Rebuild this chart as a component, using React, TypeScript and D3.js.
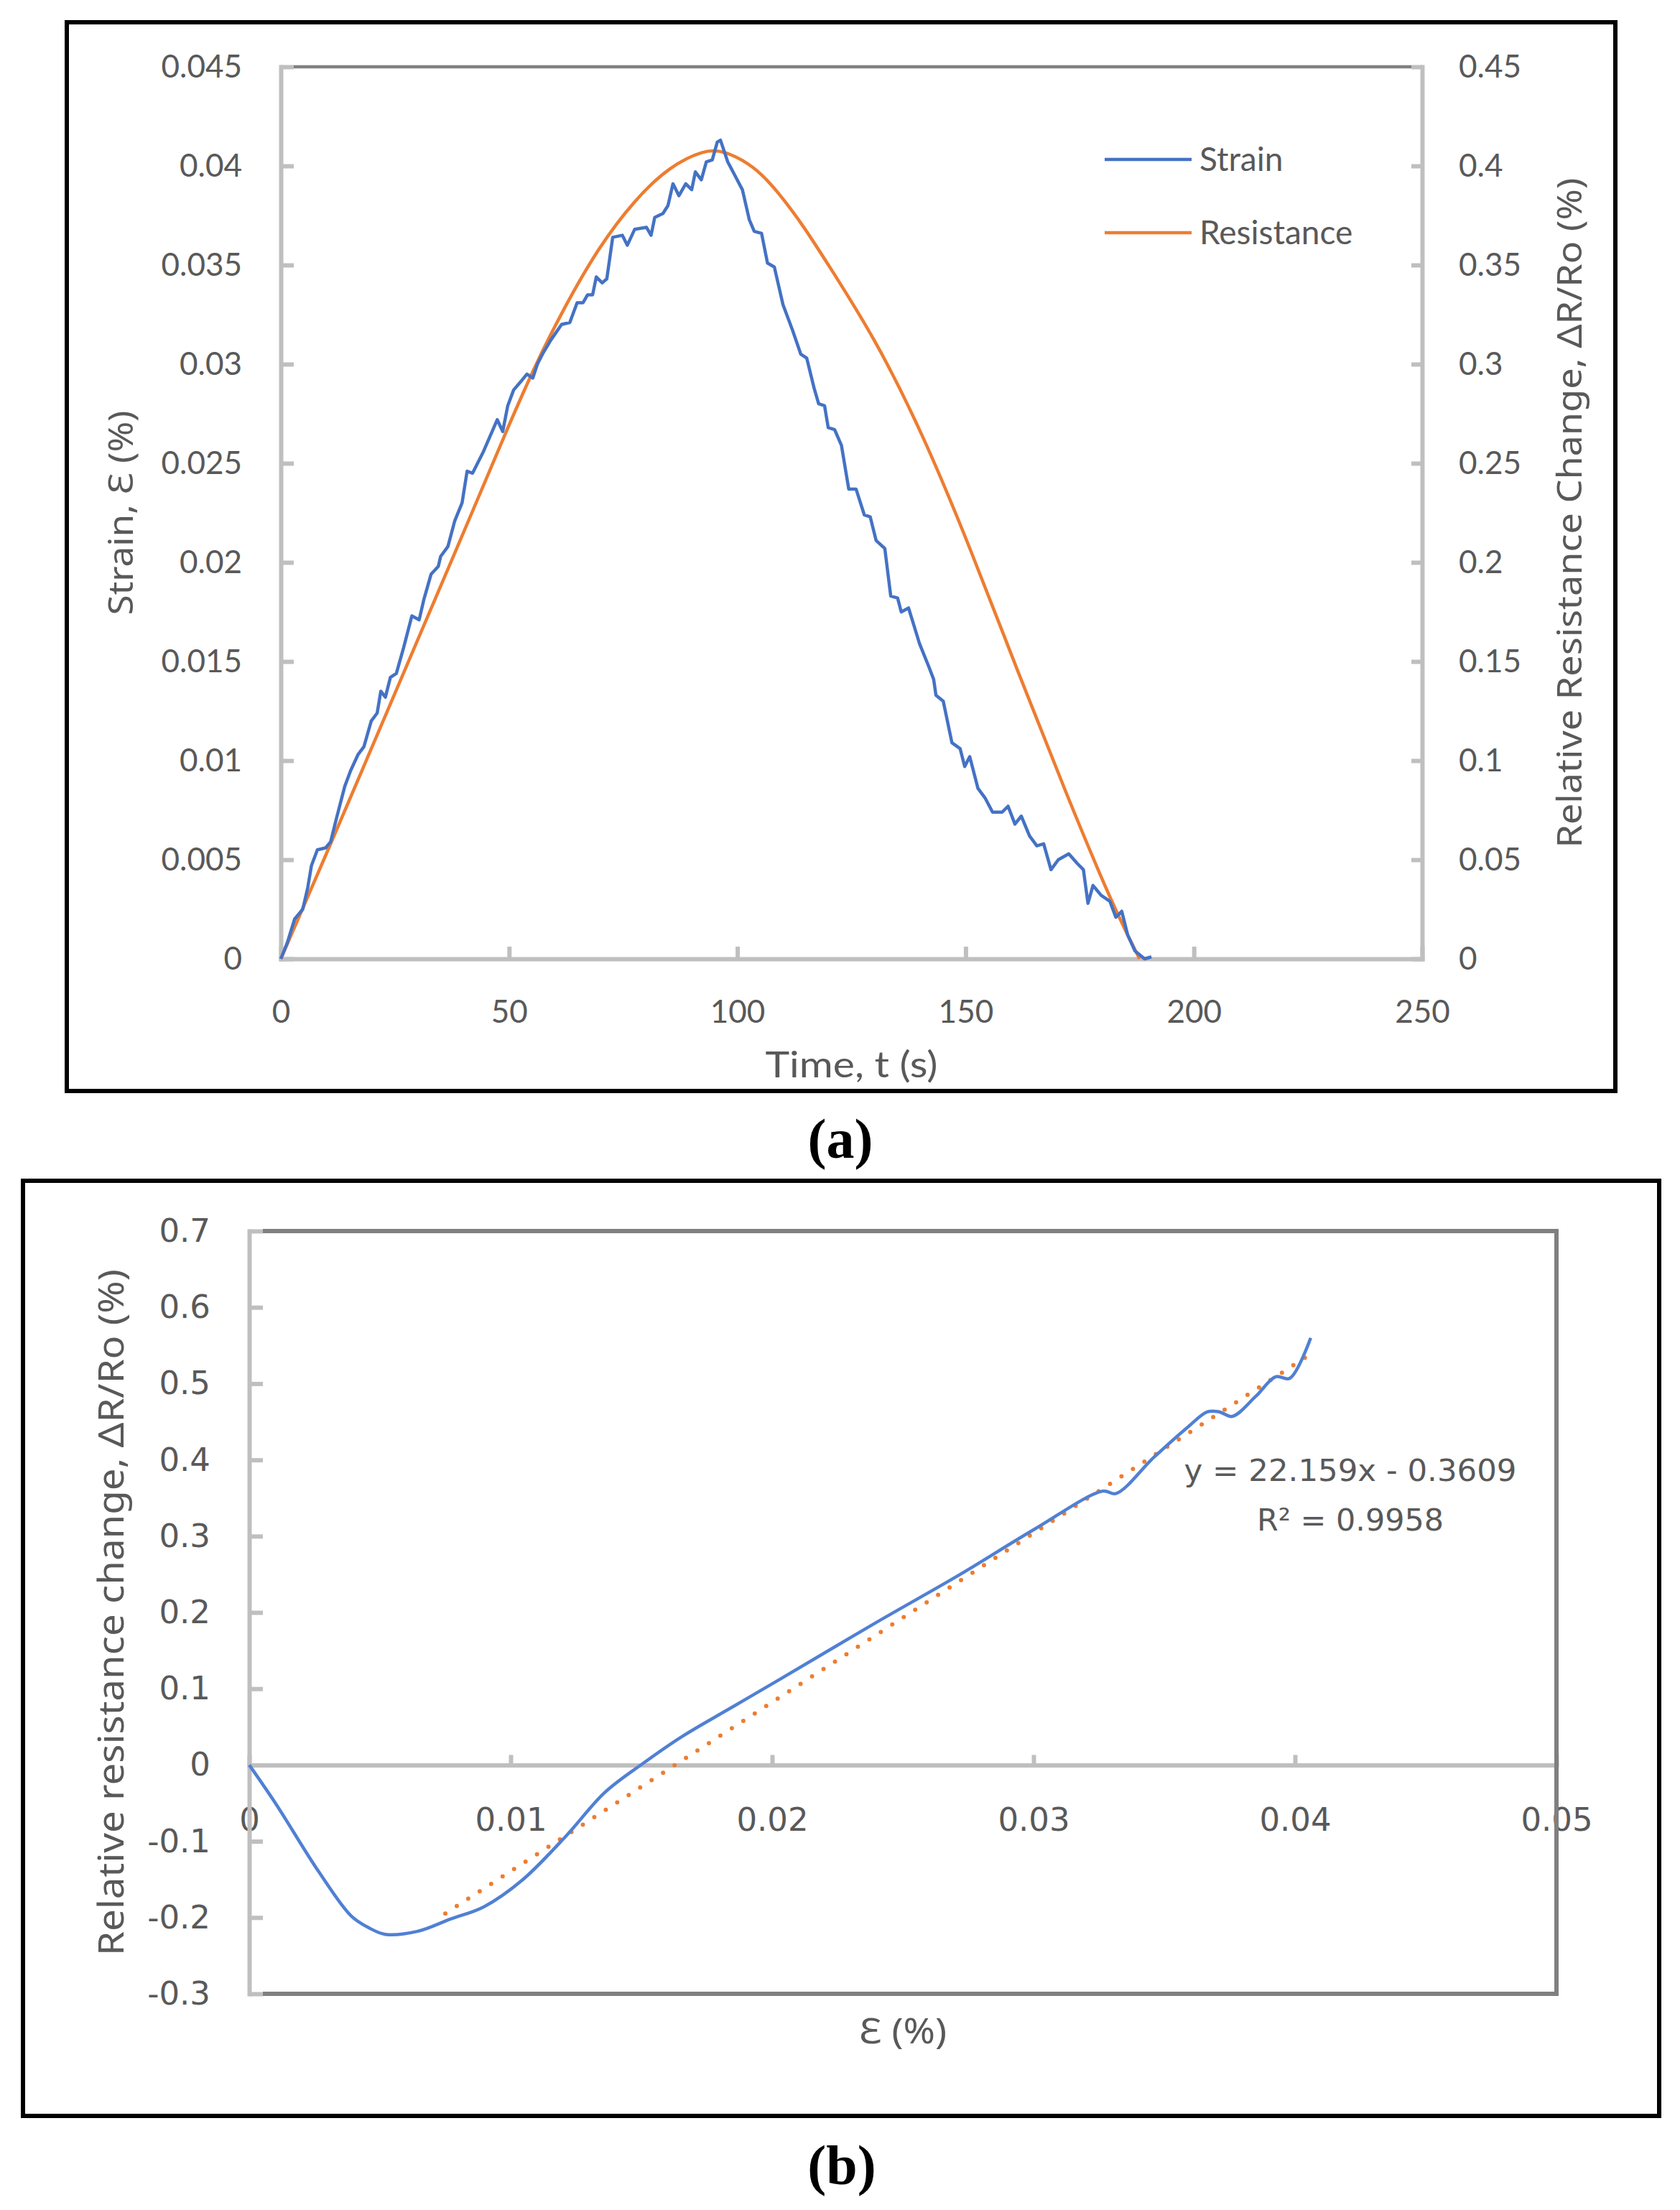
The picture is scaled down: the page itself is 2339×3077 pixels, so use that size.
import * as d3 from "d3";
import { useEffect, useRef } from "react";

// ===== (a) strain and resistance against time =====
// [time s, strain %]
const strainPoints: [number, number][] = [
  [0, 0], [1.4, 0.0008], [3.0, 0.002], [4.8, 0.0025], [5.9, 0.0036], [6.7, 0.0047],
  [8.0, 0.0055], [9.8, 0.0056], [10.9, 0.0059], [12.2, 0.0071], [14.0, 0.0087],
  [15.3, 0.0095], [16.9, 0.0103], [18.2, 0.0107], [19.8, 0.012], [21.1, 0.0124],
  [21.9, 0.0135], [22.9, 0.0132], [24.0, 0.0142], [25.3, 0.0144], [26.9, 0.0157],
  [28.7, 0.0173], [30.3, 0.0171], [31.3, 0.0181], [32.9, 0.0194], [34.5, 0.0198],
  [35.0, 0.0203], [36.6, 0.0208], [38.1, 0.0221], [39.7, 0.023], [40.8, 0.0246],
  [42.0, 0.0245], [44.4, 0.0256], [47.4, 0.0272], [48.6, 0.0266], [49.7, 0.0279],
  [51.0, 0.0287], [52.5, 0.0291], [53.9, 0.0295], [55.2, 0.0293], [56.2, 0.03],
  [57.3, 0.0305], [59.1, 0.0312], [61.5, 0.032], [63.3, 0.0321], [64.9, 0.0331],
  [66.2, 0.0331], [67.2, 0.0335], [68.3, 0.0335], [69.1, 0.0344], [70.4, 0.0341],
  [71.4, 0.0343], [72.7, 0.0364], [74.8, 0.0365], [75.9, 0.036], [77.5, 0.0368],
  [80.1, 0.0369], [81.1, 0.0365], [81.9, 0.0374], [83.7, 0.0376], [84.8, 0.038],
  [85.9, 0.0391], [87.2, 0.0385], [88.7, 0.0391], [90.0, 0.0388], [90.8, 0.0397],
  [92.1, 0.0393], [93.2, 0.0402], [94.5, 0.0403], [95.6, 0.0412], [96.3, 0.0413],
  [97.9, 0.0402], [99.5, 0.0395], [101.1, 0.0388], [102.6, 0.0373], [103.7, 0.0367],
  [105.3, 0.0366], [106.6, 0.0351], [108.1, 0.0349], [110.0, 0.033], [112.1, 0.0317],
  [113.9, 0.0305], [115.2, 0.0303], [116.8, 0.0288], [117.8, 0.028], [119.1, 0.0279],
  [119.9, 0.0268], [121.3, 0.0267], [122.8, 0.0259], [124.4, 0.0237], [126.0, 0.0237],
  [127.8, 0.0224], [129.1, 0.0223], [130.4, 0.0211], [132.3, 0.0207], [133.6, 0.0183],
  [135.1, 0.0182], [135.9, 0.0175], [137.5, 0.0177], [139.9, 0.0159], [142.0, 0.0147],
  [143.0, 0.0141], [143.5, 0.0133], [145.1, 0.013], [147.0, 0.0109], [148.8, 0.0106],
  [149.8, 0.0097], [150.9, 0.0102], [152.7, 0.0086], [154.3, 0.0081], [155.9, 0.0074],
  [158.0, 0.0074], [159.3, 0.0077], [160.8, 0.0068], [162.2, 0.0072], [164.0, 0.0062],
  [165.6, 0.0057], [167.1, 0.0058], [168.7, 0.0045], [170.3, 0.005], [172.6, 0.0053],
  [174.5, 0.0048], [175.8, 0.0045], [176.8, 0.0028], [177.9, 0.0037], [179.7, 0.0032],
  [181.6, 0.0029], [182.9, 0.0021], [184.2, 0.0024], [185.5, 0.0012], [187.1, 0.0004],
  [189.2, 0], [190.7, 0.0001],
];

// [time s, ΔR/Ro %] on the right axis
const resistancePoints: [number, number][] = [
  [0, 0], [10, 0.053], [20, 0.107], [30, 0.161], [42.8, 0.23], [48.6, 0.262],
  [55.4, 0.298], [61.7, 0.327], [69.6, 0.359], [77.5, 0.383], [85.3, 0.4],
  [92.7, 0.408], [96.9, 0.408], [103.7, 0.4], [108.9, 0.387], [114.7, 0.369],
  [119.4, 0.352], [129.9, 0.314], [140.4, 0.266], [150.9, 0.208], [161.4, 0.145],
  [171.9, 0.084], [182.4, 0.026], [188.1, 0],
];

const timeTicks = [0, 50, 100, 150, 200, 250];
const strainTicks = [0, 0.005, 0.01, 0.015, 0.02, 0.025, 0.03, 0.035, 0.04, 0.045];
const strainTickLabels = ["0", "0.005", "0.01", "0.015", "0.02", "0.025", "0.03", "0.035", "0.04", "0.045"];
const resistTicks = [0, 0.05, 0.1, 0.15, 0.2, 0.25, 0.3, 0.35, 0.4, 0.45];
const resistTickLabels = ["0", "0.05", "0.1", "0.15", "0.2", "0.25", "0.3", "0.35", "0.4", "0.45"];
const legendNames = ["Strain", "Resistance"];

// ===== (b) resistance change against strain =====
// [strain %, ΔR/Ro %]
const responsePoints: [number, number][] = [
  [0, 0], [0.001, -0.05], [0.00266, -0.14], [0.0039, -0.198], [0.00455, -0.213],
  [0.0052, -0.222], [0.00645, -0.218], [0.0077, -0.202], [0.00897, -0.186],
  [0.01044, -0.151], [0.01212, -0.093], [0.0136, -0.036], [0.01506, 0.002],
  [0.01654, 0.037], [0.01843, 0.075], [0.02033, 0.113], [0.02394, 0.186],
  [0.0272, 0.25], [0.03003, 0.309], [0.03264, 0.359], [0.03316, 0.356],
  [0.03459, 0.403], [0.0359, 0.443], [0.03665, 0.463], [0.0371, 0.463],
  [0.0376, 0.457], [0.03849, 0.483], [0.03926, 0.509], [0.0398, 0.507], [0.0406, 0.56],
];

const epsTicks = [0, 0.01, 0.02, 0.03, 0.04, 0.05];
const epsTickLabels = ["0", "0.01", "0.02", "0.03", "0.04", "0.05"];
const drTicks = [-0.3, -0.2, -0.1, 0, 0.1, 0.2, 0.3, 0.4, 0.5, 0.6, 0.7];
const drTickLabels = ["-0.3", "-0.2", "-0.1", "0", "0.1", "0.2", "0.3", "0.4", "0.5", "0.6", "0.7"];

// linear trendline as printed on the chart
const trendSlope = 22.159;
const trendIntercept = -0.3609;
const trendRange = [0.0075, 0.0407];

const W = 2339;
const H = 3077;
const BLUE = "#4472c4";
const ORANGE = "#ed7d31";
const AXIS = "#bfbfbf";
const BORDER = "#808080";
const LABEL = "#595959";

type Sel = d3.Selection<SVGSVGElement, unknown, null, undefined>;
type G = d3.Selection<SVGGElement, unknown, null, undefined>;

function styleAxis(g: G, width: number, font: string, size: number) {
  g.select(".domain").attr("stroke", AXIS).attr("stroke-width", width).attr("stroke-linecap", "square");
  g.selectAll(".tick line").attr("stroke", AXIS).attr("stroke-width", width);
  g.selectAll(".tick text")
    .attr("fill", LABEL)
    .style("font-family", font)
    .style("font-size", `${size}px`);
}

function drawTop(svg: Sel) {
  const left = 391, right = 1980, top = 93, bottom = 1335;

  svg.append("rect")
    .attr("x", 93).attr("y", 31).attr("width", 2156).attr("height", 1488)
    .attr("fill", "none").attr("stroke", "#000").attr("stroke-width", 6);

  const x = d3.scaleLinear().domain([0, 250]).range([left, right]);
  const yL = d3.scaleLinear().domain([0, 0.045]).range([bottom, top]);
  const yR = d3.scaleLinear().domain([0, 0.45]).range([bottom, top]);

  // top border line
  svg.append("line")
    .attr("x1", left + 18).attr("x2", right - 15)
    .attr("y1", yL(0.045)).attr("y2", yL(0.045))
    .attr("stroke", BORDER).attr("stroke-width", 4.5);

  const gx = svg.append("g").attr("transform", `translate(0,${bottom})`);
  gx.call(d3.axisBottom(x).tickValues(timeTicks).tickSize(-17).tickSizeOuter(0).tickFormat(d3.format("d")));
  gx.selectAll(".tick text").attr("y", 74).attr("dy", "0.35em");
  styleAxis(gx, 6, "Lato", 44);

  const gl = svg.append("g").attr("transform", `translate(${left},0)`);
  gl.call(
    d3.axisLeft(yL).tickValues(strainTicks).tickSize(-18).tickSizeOuter(0).tickPadding(54)
      .tickFormat((_, i) => strainTickLabels[i]),
  );
  styleAxis(gl, 6, "Lato", 44);

  const gr = svg.append("g").attr("transform", `translate(${right},0)`);
  gr.call(
    d3.axisRight(yR).tickValues(resistTicks).tickSize(-15).tickSizeOuter(0).tickPadding(51)
      .tickFormat((_, i) => resistTickLabels[i]),
  );
  styleAxis(gr, 6, "Lato", 44);

  // ===== Lines =====
  const resistLine = d3.line<[number, number]>()
    .x((d) => x(d[0])).y((d) => yR(d[1]))
    .curve(d3.curveBasis);
  svg.append("path").datum(resistancePoints)
    .attr("d", resistLine).attr("fill", "none")
    .attr("stroke", ORANGE).attr("stroke-width", 4.5);

  const strainLine = d3.line<[number, number]>()
    .x((d) => x(d[0])).y((d) => yL(d[1]));
  svg.append("path").datum(strainPoints)
    .attr("d", strainLine).attr("fill", "none")
    .attr("stroke", BLUE).attr("stroke-width", 4.5).attr("stroke-linejoin", "round");

  // ===== Legend =====
  [BLUE, ORANGE].forEach((c, i) => {
    const ly = 222 + i * 102;
    svg.append("line")
      .attr("x1", 1538).attr("x2", 1659).attr("y1", ly).attr("y2", ly)
      .attr("stroke", c).attr("stroke-width", 4.5);
    svg.append("text")
      .attr("x", 1670).attr("y", ly).attr("dy", "0.35em")
      .attr("fill", LABEL).style("font-family", "Lato").style("font-size", "46px")
      .text(legendNames[i]);
  });

  // ===== Titles =====
  svg.append("text")
    .attr("x", (left + right) / 2).attr("y", 1482).attr("dy", "0.35em")
    .attr("text-anchor", "middle").attr("fill", LABEL)
    .attr("textLength", 240).attr("lengthAdjust", "spacingAndGlyphs")
    .style("font-family", "Lato").style("font-size", "50px")
    .text("Time, t (s)");

  svg.append("text")
    .attr("transform", `translate(168,${(top + bottom) / 2}) rotate(-90)`)
    .attr("dy", "0.35em").attr("text-anchor", "middle").attr("fill", LABEL)
    .attr("textLength", 285).attr("lengthAdjust", "spacingAndGlyphs")
    .style("font-family", "Noto Sans").style("font-size", "48px")
    .text("Strain, Ɛ (%)");

  svg.append("text")
    .attr("transform", `translate(2185,${(top + bottom) / 2}) rotate(-90)`)
    .attr("dy", "0.35em").attr("text-anchor", "middle").attr("fill", LABEL)
    .attr("textLength", 933).attr("lengthAdjust", "spacingAndGlyphs")
    .style("font-family", "Noto Sans").style("font-size", "48px")
    .text("Relative Resistance Change, ΔR/Ro (%)");

  svg.append("text")
    .attr("x", 1170).attr("y", 1612).attr("text-anchor", "middle")
    .style("font-family", "Liberation Serif").style("font-size", "78px")
    .style("font-weight", "bold").attr("fill", "#000")
    .text("(a)");
}

function drawBottom(svg: Sel) {
  const left = 347, right = 2167, top = 1714, bottom = 2776;

  svg.append("rect")
    .attr("x", 32).attr("y", 1644).attr("width", 2278).attr("height", 1302)
    .attr("fill", "none").attr("stroke", "#000").attr("stroke-width", 6);

  const x = d3.scaleLinear().domain([0, 0.05]).range([left, right]);
  const y = d3.scaleLinear().domain([-0.3, 0.7]).range([bottom, top]);

  // zero axis with labels below the plot's zero line
  const gx = svg.append("g").attr("transform", `translate(0,${y(0)})`);
  gx.call(
    d3.axisBottom(x).tickValues(epsTicks).tickSize(-14).tickSizeOuter(0)
      .tickFormat((_, i) => epsTickLabels[i]),
  );
  gx.selectAll(".tick text").attr("y", 76).attr("dy", "0.35em");
  styleAxis(gx, 6, "DejaVu Sans", 45);
  gx.select(".domain").raise();

  // top, bottom and right border
  const border = svg.append("g").attr("fill", "none").attr("stroke", BORDER).attr("stroke-width", 6);
  border.append("line").attr("x1", left + 19).attr("x2", right).attr("y1", top).attr("y2", top);
  border.append("line").attr("x1", left + 19).attr("x2", right).attr("y1", bottom).attr("y2", bottom);
  border.append("line").attr("x1", right).attr("x2", right).attr("y1", top - 3).attr("y2", bottom + 3);

  const gl = svg.append("g").attr("transform", `translate(${left},0)`);
  gl.call(
    d3.axisLeft(y).tickValues(drTicks).tickSize(-19).tickSizeOuter(0).tickPadding(54)
      .tickFormat((_, i) => drTickLabels[i]),
  );
  styleAxis(gl, 6, "DejaVu Sans", 45);

  // ===== Trendline =====
  svg.append("line")
    .attr("x1", x(trendRange[0])).attr("y1", y(trendSlope * trendRange[0] + trendIntercept))
    .attr("x2", x(trendRange[1])).attr("y2", y(trendSlope * trendRange[1] + trendIntercept))
    .attr("stroke", ORANGE).attr("stroke-width", 6)
    .attr("stroke-linecap", "round").attr("stroke-dasharray", "0 19");

  const line = d3.line<[number, number]>()
    .x((d) => x(d[0])).y((d) => y(d[1]))
    .curve(d3.curveCatmullRom.alpha(0.5));
  svg.append("path").datum(responsePoints)
    .attr("d", line).attr("fill", "none")
    .attr("stroke", "#5080d4").attr("stroke-width", 4.5);

  // ===== Equation =====
  svg.append("text")
    .attr("x", 1880).attr("y", 2047).attr("dy", "0.35em").attr("text-anchor", "middle")
    .attr("fill", LABEL).attr("textLength", 463).attr("lengthAdjust", "spacingAndGlyphs")
    .style("font-family", "DejaVu Sans").style("font-size", "43px")
    .text("y = 22.159x - 0.3609");
  svg.append("text")
    .attr("x", 1880).attr("y", 2116).attr("dy", "0.35em").attr("text-anchor", "middle")
    .attr("fill", LABEL).attr("textLength", 260).attr("lengthAdjust", "spacingAndGlyphs")
    .style("font-family", "DejaVu Sans").style("font-size", "43px")
    .text("R² = 0.9958");

  // ===== Titles =====
  svg.append("text")
    .attr("x", (left + right) / 2).attr("y", 2827).attr("dy", "0.35em")
    .attr("text-anchor", "middle").attr("fill", LABEL)
    .attr("textLength", 122).attr("lengthAdjust", "spacingAndGlyphs")
    .style("font-family", "Noto Sans").style("font-size", "50px")
    .text("Ɛ (%)");

  svg.append("text")
    .attr("transform", `translate(154,${(top + bottom) / 2}) rotate(-90)`)
    .attr("dy", "0.35em").attr("text-anchor", "middle").attr("fill", LABEL)
    .attr("textLength", 956).attr("lengthAdjust", "spacingAndGlyphs")
    .style("font-family", "Noto Sans").style("font-size", "50px")
    .text("Relative resistance change, ΔR/Ro (%)");

  svg.append("text")
    .attr("x", 1172).attr("y", 3041).attr("text-anchor", "middle")
    .style("font-family", "Liberation Serif").style("font-size", "78px")
    .style("font-weight", "bold").attr("fill", "#000")
    .text("(b)");
}

export default function App() {
  const ref = useRef<SVGSVGElement | null>(null);

  useEffect(() => {
    const svg = d3.select(ref.current!) as Sel;
    svg.selectAll("*").remove();
    svg.append("rect").attr("width", W).attr("height", H).attr("fill", "#fff");
    drawTop(svg);
    drawBottom(svg);
  }, []);

  return (
    <svg
      ref={ref}
      width={W}
      height={H}
      style={{ position: "absolute", left: 0, top: 0, display: "block" }}
    >
      <title>Strain and resistance change charts</title>
    </svg>
  );
}
